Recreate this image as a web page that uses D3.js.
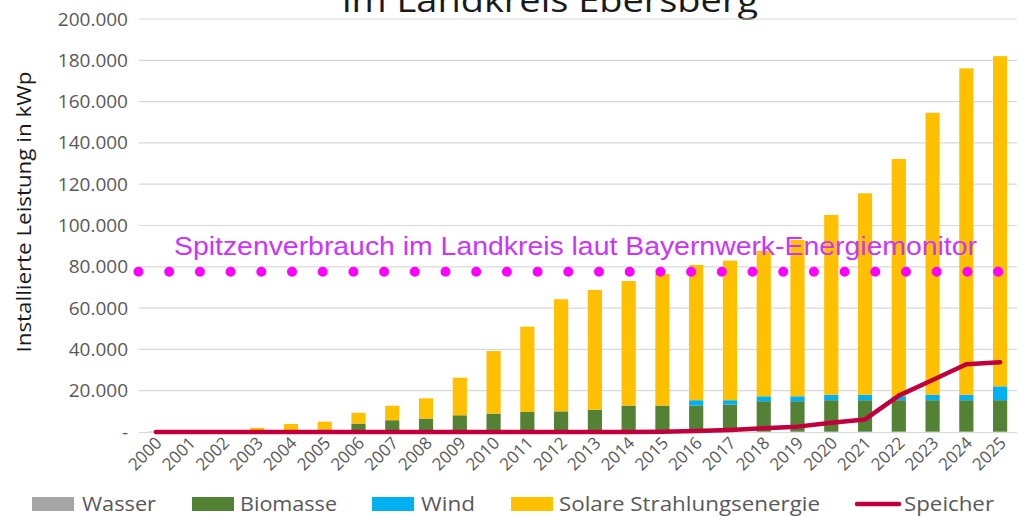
<!DOCTYPE html>
<html>
<head>
<meta charset="utf-8">
<script src="https://cdn.jsdelivr.net/npm/d3@7"></script>
<style>
  body { margin: 0; background: #fff; }
  svg { display: block; font-family: "Open Sans", sans-serif; }
</style>
</head>
<body>
<svg width="1025" height="516"></svg>
<script>
// Installierte Leistung in kWp, Landkreis Ebersberg
const years = ["2000", "2001", "2002", "2003", "2004", "2005", "2006", "2007", "2008", "2009",
    "2010", "2011", "2012", "2013", "2014", "2015", "2016", "2017", "2018", "2019",
    "2020", "2021", "2022", "2023", "2024", "2025"];
const wasser = [200, 200, 200, 200, 200, 200, 200, 200, 200, 200,
    200, 200, 200, 200, 200, 200, 200, 200, 200, 200,
    200, 200, 200, 200, 200, 200];
const biomasse = [0, 0, 0, 200, 500, 1000, 3900, 5500, 6300, 7900,
    8700, 9500, 9800, 10600, 12600, 12600, 12600, 13100, 14700, 14700,
    15200, 15200, 15200, 15200, 15200, 15200];
const wind = [0, 0, 0, 0, 0, 0, 0, 0, 0, 0,
    0, 0, 0, 0, 0, 0, 2600, 2100, 2400, 2400,
    2600, 2600, 1900, 2600, 2600, 6700];
const solar = [0, 0, 100, 1600, 3200, 3800, 5200, 7000, 9800, 18200,
    30300, 41300, 54300, 58000, 60300, 63700, 65500, 67600, 70500, 75700,
    87100, 97600, 114900, 136600, 158100, 159900];
const speicher = [0, 0, 0, 0, 0, 0, 0, 0, 0, 0,
    0, 0, 0, 0, 0, 100, 500, 1000, 1800, 2600,
    4500, 6100, 17600, 25200, 32800, 33800];
const spitzenverbrauch = 77600;
const yTicks = [0, 20000, 40000, 60000, 80000, 100000, 120000, 140000, 160000, 180000, 200000];

const seriesKeys = ["Wasser", "Biomasse", "Wind", "Solare Strahlungsenergie"];
const colors = {
    "Wasser": "#a5a5a5",
    "Biomasse": "#548235",
    "Wind": "#00b0f0",
    "Solare Strahlungsenergie": "#ffc000",
    "Speicher": "#c0003c"
};

const svg = d3.select("svg"),
    plotLeft = 139,
    plotRight = 1017,
    plotTop = 19,
    plotBottom = 432;

const rows = years.map((y, i) => ({
    year: y,
    "Wasser": wasser[i],
    "Biomasse": biomasse[i],
    "Wind": wind[i],
    "Solare Strahlungsenergie": solar[i],
    speicher: speicher[i]
}));

const x = d3.scaleBand().domain(years).range([plotLeft, plotRight]).paddingInner(0.58).paddingOuter(0.29);
const y = d3.scaleLinear().domain([0, 200000]).range([plotBottom, plotTop]);

const locale = d3.formatLocale({ decimal: ",", thousands: ".", grouping: [3], currency: ["", " €"] });
const fmt = locale.format(",.0f");

// title (cut off at the top in the original)
svg.append("text")
    .attr("x", 550)
    .attr("y", 12)
    .attr("text-anchor", "middle")
    .attr("font-size", 33)
    .attr("textLength", 416)
    .attr("lengthAdjust", "spacingAndGlyphs")
    .attr("fill", "#1a1a1a")
    .text("im Landkreis Ebersberg");

// gridlines
svg.append("g")
    .selectAll("line")
    .data(yTicks.slice(1))
    .enter()
    .append("line")
    .attr("x1", plotLeft)
    .attr("x2", plotRight)
    .attr("y1", d => y(d))
    .attr("y2", d => y(d))
    .attr("stroke", "#d9d9d9")
    .attr("stroke-width", 1.2);

// y axis
const axisY = svg.append("g")
    .attr("transform", `translate(${plotLeft - 11},0)`)
    .call(d3.axisLeft(y).tickValues(yTicks).tickSize(0).tickPadding(0)
        .tickFormat(d => d === 0 ? "-" : fmt(d)));
axisY.select(".domain").remove();
axisY.selectAll("text")
    .attr("font-family", "Open Sans")
    .attr("font-size", 19)
    .attr("fill", "#595959");

svg.append("text")
    .attr("transform", "translate(31,212) rotate(-90)")
    .attr("text-anchor", "middle")
    .attr("font-size", 20)
    .attr("textLength", 281)
    .attr("lengthAdjust", "spacingAndGlyphs")
    .attr("fill", "#1a1a1a")
    .text("Installierte Leistung in kWp");

// x axis baseline
svg.append("line")
    .attr("x1", plotLeft)
    .attr("x2", plotRight)
    .attr("y1", plotBottom + 0.5)
    .attr("y2", plotBottom + 0.5)
    .attr("stroke", "#d9d9d9")
    .attr("stroke-width", 1.2);

const axisX = svg.append("g")
    .attr("transform", `translate(0,${plotBottom})`)
    .call(d3.axisBottom(x).tickSize(0).tickPadding(0));
axisX.select(".domain").remove();
axisX.selectAll("text")
    .attr("font-family", "Open Sans")
    .attr("font-size", 17)
    .attr("fill", "#595959")
    .attr("text-anchor", "end")
    .attr("dy", null)
    .attr("y", 0)
    .attr("transform", "translate(7,12) rotate(-45)");

// stacked bars
const stack = d3.stack().keys(seriesKeys)(rows);
svg.append("g")
    .selectAll("g")
    .data(stack)
    .enter()
    .append("g")
    .attr("fill", d => colors[d.key])
    .selectAll("rect")
    .data(d => d)
    .enter()
    .append("rect")
    .attr("x", d => x(d.data.year))
    .attr("width", x.bandwidth())
    .attr("y", d => y(d[1]))
    .attr("height", d => y(d[0]) - y(d[1]));

// Spitzenverbrauch, dotted line
svg.append("line")
    .attr("x1", plotLeft - 0.5)
    .attr("x2", x(years[years.length - 1]) + x.bandwidth() / 2 - 2)
    .attr("y1", y(spitzenverbrauch))
    .attr("y2", y(spitzenverbrauch))
    .attr("stroke", "#ff00ff")
    .attr("stroke-width", 10)
    .attr("stroke-linecap", "round")
    .attr("stroke-dasharray", "0,30.7");

svg.append("text")
    .attr("x", 174)
    .attr("y", 255)
    .attr("font-family", "Liberation Sans, Arial, sans-serif")
    .attr("font-size", 26)
    .attr("textLength", 803)
    .attr("lengthAdjust", "spacingAndGlyphs")
    .attr("fill", "#cc33ff")
    .text("Spitzenverbrauch im Landkreis laut Bayernwerk-Energiemonitor");

// Speicher line
const line = d3.line()
    .x(d => x(d.year) + x.bandwidth() / 2)
    .y(d => y(d.speicher));
svg.append("path")
    .datum(rows)
    .attr("d", line)
    .attr("fill", "none")
    .attr("stroke", colors["Speicher"])
    .attr("stroke-width", 4.5)
    .attr("stroke-linejoin", "round")
    .attr("stroke-linecap", "round");

// legend
const legendItems = [
    { key: "Wasser", sx: 32, tx: 82, w: 74 },
    { key: "Biomasse", sx: 192, tx: 240, w: 97 },
    { key: "Wind", sx: 372, tx: 421, w: 54 },
    { key: "Solare Strahlungsenergie", sx: 511, tx: 559, w: 261 },
    { key: "Speicher", sx: 855, tx: 904, w: 90, line: true }
];
const legend = svg.append("g");
legendItems.forEach(item => {
    if (item.line) {
        legend.append("line")
            .attr("x1", item.sx + 2)
            .attr("x2", item.sx + 44)
            .attr("y1", 504)
            .attr("y2", 504)
            .attr("stroke", colors[item.key])
            .attr("stroke-width", 4.5)
            .attr("stroke-linecap", "round");
    } else {
        legend.append("rect")
            .attr("x", item.sx)
            .attr("y", 497)
            .attr("width", 42)
            .attr("height", 14)
            .attr("fill", colors[item.key]);
    }
    legend.append("text")
        .attr("x", item.tx)
        .attr("y", 511)
        .attr("font-size", 20)
        .attr("textLength", item.w)
        .attr("lengthAdjust", "spacingAndGlyphs")
        .attr("fill", "#595959")
        .text(item.key);
});
</script>
</body>
</html>
